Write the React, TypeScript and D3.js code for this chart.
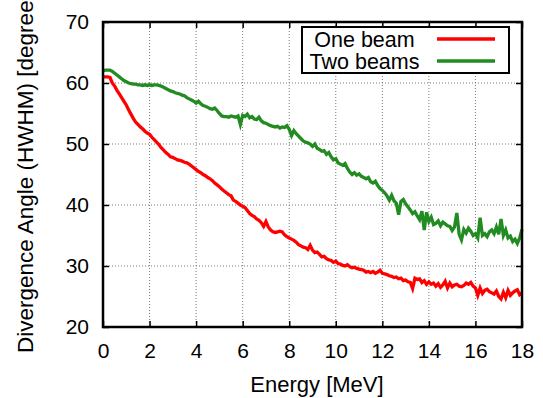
import React, {useRef, useEffect} from "react";
import * as d3 from "d3";

// energy grid [MeV], 0.1 MeV steps
const energy: number[] = d3.range(0, 181).map(i => i / 10);

const oneBeam: number[] = [
    61.0, 61.0, 61.0, 60.9, 60.0, 59.5, 58.8, 58.2, 57.6, 57.0,
    56.4, 55.6, 54.9, 54.2, 53.6, 53.2, 52.8, 52.5, 52.1, 51.8,
    51.6, 51.1, 50.7, 50.3, 49.9, 49.4, 49.0, 48.6, 48.3, 47.9,
    47.8, 47.6, 47.4, 47.3, 47.2, 47.0, 46.9, 46.7, 46.4, 46.1,
    45.8, 45.5, 45.3, 45.0, 44.8, 44.5, 44.3, 44.0, 43.6, 43.3,
    43.0, 42.6, 42.3, 42.0, 41.7, 41.5, 40.8, 40.6, 40.3, 40.0,
    39.8, 39.6, 39.1, 38.6, 38.3, 38.1, 37.7, 37.5, 37.1, 36.5,
    37.3, 36.4, 35.9, 35.6, 35.5, 35.6, 35.7, 35.6, 35.1, 34.8,
    34.6, 34.4, 34.2, 33.9, 33.5, 33.3, 33.1, 33.0, 32.7, 33.4,
    32.6, 32.2, 32.3, 31.9, 31.5, 31.6, 31.2, 31.0, 30.9, 30.6,
    30.8, 30.4, 30.3, 30.1, 30.0, 30.2, 29.9, 29.7, 29.8, 29.6,
    29.5, 29.4, 29.3, 29.0, 29.1, 28.9, 29.1, 28.8, 29.0, 29.3,
    28.8, 28.7, 28.6, 28.4, 28.3, 28.1, 28.2, 27.9, 28.0, 27.6,
    27.7, 27.4, 27.3, 26.3, 28.0, 27.8, 27.9, 27.3, 27.6, 27.0,
    27.4, 27.0, 27.2, 26.7, 27.1, 26.5, 26.9, 27.5, 26.4, 27.2,
    26.6, 26.9, 27.0, 26.7, 26.6, 26.8, 27.2, 27.0, 27.3, 26.7,
    26.4, 25.2, 26.4, 25.5, 26.0, 26.2, 25.8, 25.6, 25.4, 25.9,
    25.0, 24.6, 25.7, 24.8, 26.0, 25.2, 25.6, 25.9, 26.1, 25.3,
    25.6,
];

const twoBeams: number[] = [
    62.0, 62.1, 62.1, 62.1, 61.9, 61.6, 61.3, 61.0, 60.7, 60.4,
    60.2, 60.0, 59.9, 59.8, 59.8, 59.7, 59.7, 59.6, 59.7, 59.6,
    59.7, 59.6, 59.7, 59.7, 59.6, 59.5, 59.3, 59.1, 58.9, 58.7,
    58.6, 58.4, 58.3, 58.2, 58.0, 57.9, 57.6, 57.4, 57.2, 57.0,
    56.7, 57.0, 56.6, 56.3, 56.2, 56.0, 55.8, 55.7, 55.9, 55.5,
    55.0, 54.6, 54.5, 54.5, 54.4, 54.6, 54.5, 54.4, 54.6, 53.2,
    54.7, 54.5, 54.9, 54.3, 54.5, 54.1, 54.0, 54.4, 53.8, 53.5,
    53.4, 53.2, 53.0, 52.9, 52.8, 52.9, 52.6, 52.8, 52.7, 53.0,
    52.4, 51.4, 52.2, 51.7, 51.3, 50.9, 50.5, 50.3, 50.2, 50.0,
    49.6, 50.0, 49.3, 49.1, 48.8, 48.9, 48.3, 48.6, 47.9, 47.4,
    47.6, 46.9, 46.7, 46.5, 46.8, 46.0, 45.4, 45.0, 45.3, 44.9,
    45.1, 44.7, 44.5, 44.3, 44.5, 43.8, 43.6, 43.9, 43.2, 42.7,
    42.4, 42.0, 41.5, 40.8, 41.6, 40.7, 40.3, 38.4, 40.6, 40.9,
    40.2, 39.7, 39.2, 38.6, 38.9, 38.2, 37.6, 39.0, 35.9, 38.8,
    37.3, 38.0, 36.8, 37.0, 37.4, 36.6, 37.2, 36.9, 36.6, 36.5,
    35.8, 36.4, 38.7, 35.2, 34.3, 36.0, 35.4, 36.2, 35.7, 35.0,
    35.3, 34.6, 37.9, 35.0, 35.3, 34.8, 35.6, 35.9, 35.3, 36.4,
    35.2, 37.7, 35.0, 35.9, 34.6, 34.9, 34.0, 34.4, 33.7, 34.6,
    36.0,
];

const xTicks = [0, 2, 4, 6, 8, 10, 12, 14, 16, 18];
const yTicks = [20, 30, 40, 50, 60, 70];
const seriesNames = ["One beam", "Two beams"];
const seriesColors = ["#ff0000", "#228b22"];

const width = 543;
const height = 398;
const margin = {top: 22, right: 21, bottom: 71, left: 103};
const font = "'Liberation Sans', Arial, Helvetica, sans-serif";

const App: React.FC = () => {
    const ref = useRef<SVGSVGElement>(null);

    useEffect(() => {
        document.body.style.margin = "0";
        if (!ref.current) return;
        const svg = d3.select(ref.current);
        svg.selectAll("*").remove();

        const innerWidth = width - margin.left - margin.right;
        const innerHeight = height - margin.top - margin.bottom;

        const xScale = d3.scaleLinear().domain([0, 18]).range([0, innerWidth]);
        const yScale = d3.scaleLinear().domain([20, 70]).range([innerHeight, 0]);

        svg.append("rect").attr("width", width).attr("height", height).attr("fill", "#fff");

        const g = svg.append("g").attr("transform", `translate(${margin.left},${margin.top})`);

        // dotted grid
        const grid = g.append("g")
            .attr("stroke", "#7a7a7a")
            .attr("stroke-width", 1)
            .attr("stroke-dasharray", "1,2");
        grid.selectAll("line.gx")
            .data(xTicks.slice(1, -1))
            .join("line")
            .attr("x1", d => xScale(d)).attr("x2", d => xScale(d))
            .attr("y1", 0).attr("y2", innerHeight);
        grid.selectAll("line.gy")
            .data(yTicks.slice(1, -1))
            .join("line")
            .attr("class", "gy")
            .attr("x1", 0).attr("x2", innerWidth)
            .attr("y1", d => yScale(d)).attr("y2", d => yScale(d));

        // inward ticks on all four sides
        const tickLen = 6;
        const gx = g.append("g").attr("transform", `translate(0,${innerHeight})`)
            .call(d3.axisBottom(xScale).tickValues(xTicks).tickSizeInner(-tickLen).tickSizeOuter(0).tickPadding(14));
        const gxTop = g.append("g")
            .call(d3.axisTop(xScale).tickValues(xTicks).tickSizeInner(-tickLen).tickSizeOuter(0).tickFormat(() => ""));
        const gy = g.append("g")
            .call(d3.axisLeft(yScale).tickValues(yTicks).tickSizeInner(-tickLen).tickSizeOuter(0).tickPadding(14));
        const gyRight = g.append("g").attr("transform", `translate(${innerWidth},0)`)
            .call(d3.axisRight(yScale).tickValues(yTicks).tickSizeInner(-tickLen).tickSizeOuter(0).tickFormat(() => ""));

        [gx, gxTop, gy, gyRight].forEach(a => {
            a.select(".domain").remove();
            a.selectAll(".tick line").attr("stroke", "#000").attr("stroke-width", 1.5);
            a.selectAll(".tick text")
                .attr("fill", "#000")
                .attr("font-family", font)
                .attr("font-size", 21);
        });
        gx.selectAll(".tick text").attr("dy", "0.71em").attr("y", 16);
        gy.selectAll(".tick text").attr("x", -14);

        // curves
        const line = d3.line<number>()
            .x((_, i) => xScale(energy[i]))
            .y(d => yScale(d));

        [oneBeam, twoBeams].forEach((values, k) => {
            g.append("path")
                .datum(values)
                .attr("fill", "none")
                .attr("stroke", seriesColors[k])
                .attr("stroke-width", 3.3)
                .attr("stroke-linejoin", "miter")
                .attr("d", line);
        });

        // frame
        g.append("rect")
            .attr("width", innerWidth).attr("height", innerHeight)
            .attr("fill", "none").attr("stroke", "#000").attr("stroke-width", 2.5);

        // legend
        const lg = g.append("g").attr("transform", `translate(${302 - margin.left},${27 - margin.top})`);
        lg.append("rect")
            .attr("width", 207).attr("height", 46)
            .attr("fill", "#fff").attr("stroke", "#000").attr("stroke-width", 2);
        seriesNames.forEach((name, k) => {
            const cy = 12 + k * 22;
            lg.append("text")
                .attr("x", 62.5).attr("y", cy)
                .attr("dy", "0.36em")
                .attr("text-anchor", "middle")
                .attr("font-family", font)
                .attr("font-size", 21.5)
                .attr("fill", "#000")
                .text(name);
            lg.append("line")
                .attr("x1", 135).attr("x2", 193)
                .attr("y1", cy).attr("y2", cy)
                .attr("stroke", seriesColors[k])
                .attr("stroke-width", 3.5);
        });

        // axis titles
        svg.append("text")
            .attr("x", 317).attr("y", 392)
            .attr("text-anchor", "middle")
            .attr("font-family", font)
            .attr("font-size", 22)
            .attr("fill", "#000")
            .text("Energy [MeV]");
        svg.append("text")
            .attr("transform", `translate(33,353) rotate(-90)`)
            .attr("text-anchor", "start")
            .attr("font-family", font)
            .attr("font-size", 22.5)
            .attr("fill", "#000")
            .text("Divergence Angle (HWHM) [degrees]");
    }, []);

    return <svg ref={ref} width={width} height={height}
                style={{display: "block", position: "absolute", left: 0, top: 0}}/>;
}

export default App;
